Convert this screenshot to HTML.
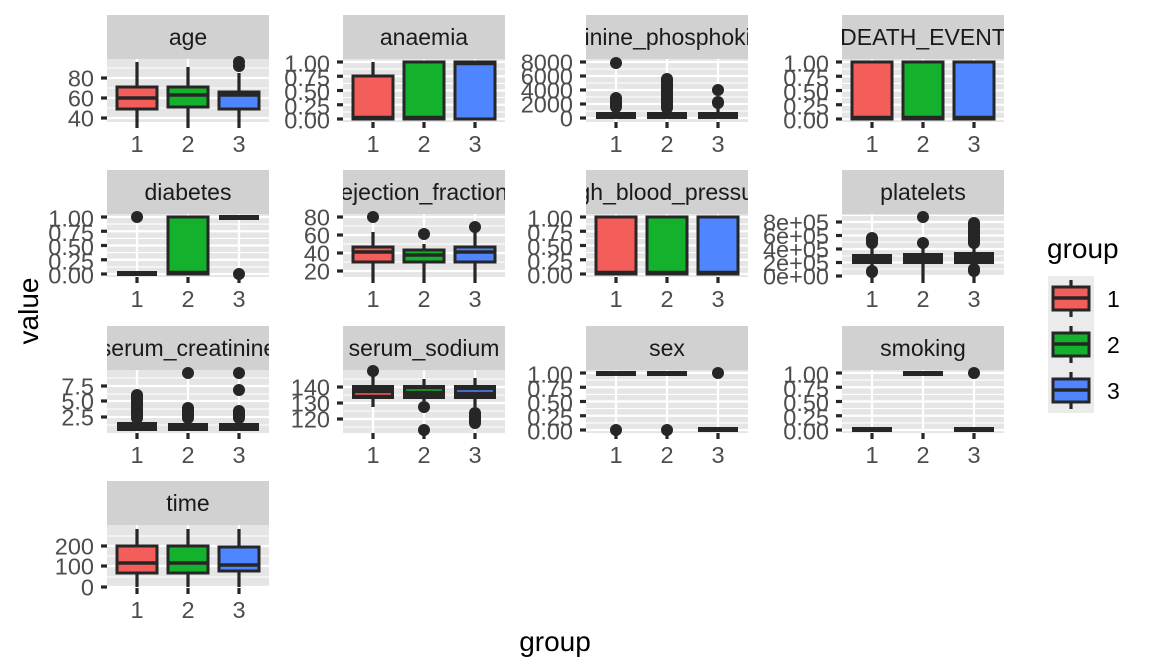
<!DOCTYPE html>
<html><head><meta charset="utf-8"><style>
html,body{margin:0;padding:0;background:#fff;}
svg{display:block;font-family:"Liberation Sans",sans-serif;}
.tk{font-size:23.5px;fill:#4D4D4D;text-anchor:end}
.xl{font-size:23.5px;fill:#4D4D4D;text-anchor:middle}
.st{font-size:23px;fill:#1A1A1A;text-anchor:middle}
.w{stroke:#262626;stroke-width:3.2}
.b{stroke:#262626;stroke-width:3}
.mj{stroke:#fff;stroke-width:2.2}
.mn{stroke:#fff;stroke-width:1.1}
circle{fill:#262626}
</style></head><body>
<svg width="1152" height="672" viewBox="0 0 1152 672">
<defs>
<g id="b01">
<rect width="162" height="63" fill="#E5E5E5"/>
<line class="mn" x1="0" x2="162" y1="10.1" y2="10.1"/><line class="mn" x1="0" x2="162" y1="24.4" y2="24.4"/><line class="mn" x1="0" x2="162" y1="38.6" y2="38.6"/><line class="mn" x1="0" x2="162" y1="52.9" y2="52.9"/>
<line class="mj" x1="0" x2="162" y1="3" y2="3"/><line class="mj" x1="0" x2="162" y1="17.25" y2="17.25"/><line class="mj" x1="0" x2="162" y1="31.5" y2="31.5"/><line class="mj" x1="0" x2="162" y1="45.75" y2="45.75"/><line class="mj" x1="0" x2="162" y1="60" y2="60"/>
<line class="mj" x1="30" x2="30" y1="0" y2="63"/><line class="mj" x1="81" x2="81" y1="0" y2="63"/><line class="mj" x1="132" x2="132" y1="0" y2="63"/>
</g>
<g id="vx">
<line class="mj" x1="30" x2="30" y1="0" y2="63"/><line class="mj" x1="81" x2="81" y1="0" y2="63"/><line class="mj" x1="132" x2="132" y1="0" y2="63"/>
</g>
<g id="t01">
<line class="w" x1="-6" x2="0" y1="3" y2="3"/><line class="w" x1="-6" x2="0" y1="17.25" y2="17.25"/><line class="w" x1="-6" x2="0" y1="31.5" y2="31.5"/><line class="w" x1="-6" x2="0" y1="45.75" y2="45.75"/><line class="w" x1="-6" x2="0" y1="60" y2="60"/>
</g>
<g id="xt">
<line class="w" x1="30" x2="30" y1="63" y2="69"/><line class="w" x1="81" x2="81" y1="63" y2="69"/><line class="w" x1="132" x2="132" y1="63" y2="69"/>
</g>
</defs>

<svg x="107" y="15" width="162" height="44"><rect width="162" height="44" fill="#D1D1D1"/><text class="st" x="81" y="30">age</text></svg>
<svg x="343" y="15" width="162" height="44"><rect width="162" height="44" fill="#D1D1D1"/><text class="st" x="81" y="30">anaemia</text></svg>
<svg x="586" y="15" width="162" height="44"><rect width="162" height="44" fill="#D1D1D1"/><text class="st" x="81" y="30">creatinine_phosphokinase</text></svg>
<svg x="842" y="15" width="162" height="44"><rect width="162" height="44" fill="#D1D1D1"/><text class="st" x="81" y="30">DEATH_EVENT</text></svg>
<svg x="107" y="170" width="162" height="44"><rect width="162" height="44" fill="#D1D1D1"/><text class="st" x="81" y="30">diabetes</text></svg>
<svg x="343" y="170" width="162" height="44"><rect width="162" height="44" fill="#D1D1D1"/><text class="st" x="81" y="30">ejection_fraction</text></svg>
<svg x="586" y="170" width="162" height="44"><rect width="162" height="44" fill="#D1D1D1"/><text class="st" x="81" y="30">high_blood_pressure</text></svg>
<svg x="842" y="170" width="162" height="44"><rect width="162" height="44" fill="#D1D1D1"/><text class="st" x="81" y="30">platelets</text></svg>
<svg x="107" y="326" width="162" height="44"><rect width="162" height="44" fill="#D1D1D1"/><text class="st" x="81" y="30">serum_creatinine</text></svg>
<svg x="343" y="326" width="162" height="44"><rect width="162" height="44" fill="#D1D1D1"/><text class="st" x="81" y="30">serum_sodium</text></svg>
<svg x="586" y="326" width="162" height="44"><rect width="162" height="44" fill="#D1D1D1"/><text class="st" x="81" y="30">sex</text></svg>
<svg x="842" y="326" width="162" height="44"><rect width="162" height="44" fill="#D1D1D1"/><text class="st" x="81" y="30">smoking</text></svg>
<svg x="107" y="481" width="162" height="44"><rect width="162" height="44" fill="#D1D1D1"/><text class="st" x="81" y="30">time</text></svg>

<!-- age -->
<g transform="translate(107,59)">
<rect width="162" height="63" fill="#E5E5E5"/>
<line class="mn" x1="0" x2="162" y1="9" y2="9"/><line class="mn" x1="0" x2="162" y1="29" y2="29"/><line class="mn" x1="0" x2="162" y1="49" y2="49"/>
<line class="mj" x1="0" x2="162" y1="19" y2="19"/><line class="mj" x1="0" x2="162" y1="39" y2="39"/><line class="mj" x1="0" x2="162" y1="59" y2="59"/>
<use href="#vx"/>
<line class="w" x1="-6" x2="0" y1="19" y2="19"/><line class="w" x1="-6" x2="0" y1="39" y2="39"/><line class="w" x1="-6" x2="0" y1="59" y2="59"/>
<text class="tk" x="-13" y="27.5">80</text><text class="tk" x="-13" y="47.5">60</text><text class="tk" x="-13" y="67.5">40</text>
<use href="#xt"/>
<line class="w" x1="30" x2="30" y1="3" y2="63"/><rect class="b" x="10" y="28" width="40" height="22" fill="#F45E5A"/><line stroke="#262626" stroke-width="3.5" x1="10" x2="50" y1="39" y2="39"/>
<line class="w" x1="81" x2="81" y1="8" y2="63"/><rect class="b" x="61" y="28" width="40" height="20" fill="#14B12D"/><line stroke="#262626" stroke-width="3.5" x1="61" x2="101" y1="36" y2="36"/>
<line class="w" x1="132" x2="132" y1="14" y2="63"/><rect class="b" x="112" y="33" width="40" height="17" fill="#4F86FF"/><line stroke="#262626" stroke-width="3.5" x1="112" x2="152" y1="36" y2="36"/>
<circle cx="132" cy="7" r="6"/><circle cx="132" cy="3" r="6"/>
</g>

<!-- anaemia -->
<g transform="translate(343,59)">
<use href="#b01"/><use href="#t01"/><use href="#xt"/>
<line class="w" x1="30" x2="30" y1="3" y2="20"/><rect class="b" x="10" y="17" width="40" height="43" fill="#F45E5A"/><line stroke="#262626" stroke-width="4.5" x1="10" x2="50" y1="59" y2="59"/>
<rect class="b" x="61" y="3" width="40" height="57" fill="#14B12D"/><line stroke="#262626" stroke-width="4.5" x1="61" x2="101" y1="59" y2="59"/>
<rect class="b" x="112" y="3" width="40" height="57" fill="#4F86FF"/><line stroke="#262626" stroke-width="4.5" x1="112" x2="152" y1="4" y2="4"/>
</g>
<g class="tk"><text x="330" y="71.5">1.00</text><text x="330" y="85.75">0.75</text><text x="330" y="100">0.50</text><text x="330" y="114.25">0.25</text><text x="330" y="128.5">0.00</text></g>

<!-- CPK -->
<g transform="translate(586,59)">
<rect width="162" height="63" fill="#E5E5E5"/>
<line class="mn" x1="0" x2="162" y1="10" y2="10"/><line class="mn" x1="0" x2="162" y1="24" y2="24"/><line class="mn" x1="0" x2="162" y1="38" y2="38"/><line class="mn" x1="0" x2="162" y1="52" y2="52"/>
<line class="mj" x1="0" x2="162" y1="3" y2="3"/><line class="mj" x1="0" x2="162" y1="17" y2="17"/><line class="mj" x1="0" x2="162" y1="31" y2="31"/><line class="mj" x1="0" x2="162" y1="45" y2="45"/><line class="mj" x1="0" x2="162" y1="59" y2="59"/>
<use href="#vx"/>
<line class="w" x1="-6" x2="0" y1="3" y2="3"/><line class="w" x1="-6" x2="0" y1="17" y2="17"/><line class="w" x1="-6" x2="0" y1="31" y2="31"/><line class="w" x1="-6" x2="0" y1="45" y2="45"/><line class="w" x1="-6" x2="0" y1="59" y2="59"/>
<text class="tk" x="-13" y="11.5">8000</text><text class="tk" x="-13" y="25.5">6000</text><text class="tk" x="-13" y="39.5">4000</text><text class="tk" x="-13" y="53.5">2000</text><text class="tk" x="-13" y="67.5">0</text>
<use href="#xt"/>
<rect x="10" y="53" width="40" height="7" fill="#262626"/><rect x="61" y="53" width="40" height="7" fill="#262626"/><rect x="112" y="53" width="40" height="7" fill="#262626"/>
<line class="w" x1="30" x2="30" y1="40" y2="55"/><circle cx="30" cy="4" r="6"/><rect x="24" y="33" width="12" height="21" rx="6" fill="#262626"/>
<line class="w" x1="81" x2="81" y1="40" y2="55"/><rect x="75" y="14" width="12" height="41" rx="6" fill="#262626"/>
<line class="w" x1="132" x2="132" y1="45" y2="55"/><circle cx="132" cy="31" r="6"/><rect x="126" y="37" width="12" height="13" rx="6" fill="#262626"/>
</g>

<!-- DEATH_EVENT -->
<g transform="translate(842,59)">
<use href="#b01"/><use href="#t01"/><use href="#xt"/>
<rect class="b" x="10" y="3" width="40" height="57" fill="#F45E5A"/><line stroke="#262626" stroke-width="4.5" x1="10" x2="50" y1="59" y2="59"/>
<rect class="b" x="61" y="3" width="40" height="57" fill="#14B12D"/><line stroke="#262626" stroke-width="4.5" x1="61" x2="101" y1="59" y2="59"/>
<rect class="b" x="112" y="3" width="40" height="57" fill="#4F86FF"/><line stroke="#262626" stroke-width="4.5" x1="112" x2="152" y1="59" y2="59"/>
</g>
<g class="tk"><text x="829" y="71.5">1.00</text><text x="829" y="85.75">0.75</text><text x="829" y="100">0.50</text><text x="829" y="114.25">0.25</text><text x="829" y="128.5">0.00</text></g>

<!-- diabetes -->
<g transform="translate(107,214)">
<use href="#b01"/><use href="#t01"/><use href="#xt"/>
<rect x="10" y="57" width="40" height="5" fill="#262626"/><circle cx="30" cy="3" r="6"/>
<rect class="b" x="61" y="3" width="40" height="57" fill="#14B12D"/><line stroke="#262626" stroke-width="4.5" x1="61" x2="101" y1="59" y2="59"/>
<rect x="112" y="1" width="40" height="5" fill="#262626"/><circle cx="132" cy="60" r="6"/>
</g>
<g class="tk"><text x="94" y="226.5">1.00</text><text x="94" y="240.75">0.75</text><text x="94" y="255">0.50</text><text x="94" y="269.25">0.25</text><text x="94" y="283.5">0.00</text></g>

<!-- ejection_fraction -->
<g transform="translate(343,214)">
<rect width="162" height="63" fill="#E5E5E5"/>
<line class="mn" x1="0" x2="162" y1="12" y2="12"/><line class="mn" x1="0" x2="162" y1="30" y2="30"/><line class="mn" x1="0" x2="162" y1="48" y2="48"/>
<line class="mj" x1="0" x2="162" y1="3" y2="3"/><line class="mj" x1="0" x2="162" y1="21" y2="21"/><line class="mj" x1="0" x2="162" y1="39" y2="39"/><line class="mj" x1="0" x2="162" y1="57" y2="57"/>
<use href="#vx"/>
<line class="w" x1="-6" x2="0" y1="3" y2="3"/><line class="w" x1="-6" x2="0" y1="21" y2="21"/><line class="w" x1="-6" x2="0" y1="39" y2="39"/><line class="w" x1="-6" x2="0" y1="57" y2="57"/>
<text class="tk" x="-13" y="11.5">80</text><text class="tk" x="-13" y="29.5">60</text><text class="tk" x="-13" y="47.5">40</text><text class="tk" x="-13" y="65.5">20</text>
<use href="#xt"/>
<line class="w" x1="30" x2="30" y1="18" y2="63"/><rect class="b" x="10" y="33" width="40" height="15" fill="#F45E5A"/><line stroke="#262626" stroke-width="3.5" x1="10" x2="50" y1="38" y2="38"/><circle cx="30" cy="3" r="6"/>
<line class="w" x1="81" x2="81" y1="30" y2="63"/><rect class="b" x="61" y="36" width="40" height="12" fill="#14B12D"/><line stroke="#262626" stroke-width="3.5" x1="61" x2="101" y1="41" y2="41"/><circle cx="81" cy="20" r="6"/>
<line class="w" x1="132" x2="132" y1="18" y2="63"/><rect class="b" x="112" y="33" width="40" height="15" fill="#4F86FF"/><line stroke="#262626" stroke-width="3.5" x1="112" x2="152" y1="38" y2="38"/><circle cx="132" cy="13" r="6"/>
</g>

<!-- high_blood_pressure -->
<g transform="translate(586,214)">
<use href="#b01"/><use href="#t01"/><use href="#xt"/>
<rect class="b" x="10" y="3" width="40" height="57" fill="#F45E5A"/><line stroke="#262626" stroke-width="4.5" x1="10" x2="50" y1="59" y2="59"/>
<rect class="b" x="61" y="3" width="40" height="57" fill="#14B12D"/><line stroke="#262626" stroke-width="4.5" x1="61" x2="101" y1="59" y2="59"/>
<rect class="b" x="112" y="3" width="40" height="57" fill="#4F86FF"/><line stroke="#262626" stroke-width="4.5" x1="112" x2="152" y1="59" y2="59"/>
</g>
<g class="tk"><text x="573" y="226.5">1.00</text><text x="573" y="240.75">0.75</text><text x="573" y="255">0.50</text><text x="573" y="269.25">0.25</text><text x="573" y="283.5">0.00</text></g>

<!-- platelets -->
<g transform="translate(842,214)">
<rect width="162" height="63" fill="#E5E5E5"/>
<line class="mn" x1="0" x2="162" y1="1.5" y2="1.5"/><line class="mn" x1="0" x2="162" y1="15" y2="15"/><line class="mn" x1="0" x2="162" y1="28" y2="28"/><line class="mn" x1="0" x2="162" y1="42" y2="42"/><line class="mn" x1="0" x2="162" y1="55" y2="55"/>
<line class="mj" x1="0" x2="162" y1="8" y2="8"/><line class="mj" x1="0" x2="162" y1="21.5" y2="21.5"/><line class="mj" x1="0" x2="162" y1="35" y2="35"/><line class="mj" x1="0" x2="162" y1="48.5" y2="48.5"/><line class="mj" x1="0" x2="162" y1="62" y2="62"/>
<use href="#vx"/>
<line class="w" x1="-6" x2="0" y1="8" y2="8"/><line class="w" x1="-6" x2="0" y1="21.5" y2="21.5"/><line class="w" x1="-6" x2="0" y1="35" y2="35"/><line class="w" x1="-6" x2="0" y1="48.5" y2="48.5"/><line class="w" x1="-6" x2="0" y1="62" y2="62"/>
<text class="tk" x="-13" y="16.5">8e+05</text><text class="tk" x="-13" y="30">6e+05</text><text class="tk" x="-13" y="43.5">4e+05</text><text class="tk" x="-13" y="57">2e+05</text><text class="tk" x="-13" y="70.5">0e+00</text>
<use href="#xt"/>
<line class="w" x1="30" x2="30" y1="24" y2="63"/><rect x="10" y="40" width="40" height="10" fill="#262626"/><rect x="24" y="18" width="12" height="17" rx="6" fill="#262626"/><rect x="24" y="51" width="12" height="13" rx="6" fill="#262626"/>
<line class="w" x1="81" x2="81" y1="30" y2="63"/><rect x="61" y="39" width="40" height="11" fill="#262626"/><circle cx="81" cy="3" r="6"/><circle cx="81" cy="29" r="6"/>
<line class="w" x1="132" x2="132" y1="24" y2="63"/><rect x="112" y="38" width="40" height="12" fill="#262626"/><rect x="126" y="3" width="12" height="32" rx="6" fill="#262626"/><rect x="126" y="49" width="12" height="14" rx="6" fill="#262626"/>
</g>

<!-- serum_creatinine -->
<g transform="translate(107,370)">
<rect width="162" height="63" fill="#E5E5E5"/>
<line class="mn" x1="0" x2="162" y1="8" y2="8"/><line class="mn" x1="0" x2="162" y1="24" y2="24"/><line class="mn" x1="0" x2="162" y1="39" y2="39"/><line class="mn" x1="0" x2="162" y1="55" y2="55"/>
<line class="mj" x1="0" x2="162" y1="16" y2="16"/><line class="mj" x1="0" x2="162" y1="31" y2="31"/><line class="mj" x1="0" x2="162" y1="47" y2="47"/>
<use href="#vx"/>
<line class="w" x1="-6" x2="0" y1="16" y2="16"/><line class="w" x1="-6" x2="0" y1="31" y2="31"/><line class="w" x1="-6" x2="0" y1="47" y2="47"/>
<text class="tk" x="-13" y="24.5">7.5</text><text class="tk" x="-13" y="39.5">5.0</text><text class="tk" x="-13" y="55.5">2.5</text>
<use href="#xt"/>
<rect x="10" y="52" width="40" height="9" fill="#262626"/><rect x="24" y="19" width="12" height="35" rx="6" fill="#262626"/>
<rect x="61" y="53" width="40" height="8" fill="#262626"/><circle cx="81" cy="3" r="6"/><rect x="75" y="32" width="12" height="22" rx="6" fill="#262626"/>
<rect x="112" y="53" width="40" height="8" fill="#262626"/><circle cx="132" cy="3" r="6"/><circle cx="132" cy="20" r="6"/><rect x="126" y="35" width="12" height="19" rx="6" fill="#262626"/>
</g>

<!-- serum_sodium -->
<g transform="translate(343,370)">
<rect width="162" height="63" fill="#E5E5E5"/>
<line class="mn" x1="0" x2="162" y1="9" y2="9"/><line class="mn" x1="0" x2="162" y1="25" y2="25"/><line class="mn" x1="0" x2="162" y1="41" y2="41"/><line class="mn" x1="0" x2="162" y1="57" y2="57"/>
<line class="mj" x1="0" x2="162" y1="17" y2="17"/><line class="mj" x1="0" x2="162" y1="33" y2="33"/><line class="mj" x1="0" x2="162" y1="49" y2="49"/>
<use href="#vx"/>
<line class="w" x1="-6" x2="0" y1="17" y2="17"/><line class="w" x1="-6" x2="0" y1="33" y2="33"/><line class="w" x1="-6" x2="0" y1="49" y2="49"/>
<text class="tk" x="-13" y="25.5">140</text><text class="tk" x="-13" y="41.5">130</text><text class="tk" x="-13" y="57.5">120</text>
<use href="#xt"/>
<line class="w" x1="30" x2="30" y1="3" y2="37"/><rect x="9" y="15" width="42" height="14" fill="#262626"/><line stroke="#F45E5A" stroke-width="1.5" x1="12" x2="48" y1="24" y2="24"/><circle cx="30" cy="1" r="6"/>
<line class="w" x1="81" x2="81" y1="9" y2="31"/><rect x="60" y="15" width="42" height="14" fill="#262626"/><line stroke="#14B12D" stroke-width="1.5" x1="63" x2="99" y1="20" y2="20"/><circle cx="81" cy="37" r="6"/><circle cx="81" cy="60" r="6"/>
<line class="w" x1="132" x2="132" y1="8" y2="37"/><rect x="111" y="15" width="42" height="14" fill="#262626"/><line stroke="#4F86FF" stroke-width="1.5" x1="114" x2="150" y1="21" y2="21"/><rect x="126" y="37" width="12" height="22" rx="6" fill="#262626"/>
</g>

<!-- sex -->
<g transform="translate(586,370)">
<use href="#b01"/><use href="#t01"/><use href="#xt"/>
<rect x="10" y="1" width="40" height="5" fill="#262626"/><circle cx="30" cy="60" r="6"/>
<rect x="61" y="1" width="40" height="5" fill="#262626"/><circle cx="81" cy="60" r="6"/>
<rect x="112" y="57" width="40" height="5" fill="#262626"/><circle cx="132" cy="3" r="6"/>
</g>
<g class="tk"><text x="573" y="382.5">1.00</text><text x="573" y="396.75">0.75</text><text x="573" y="411">0.50</text><text x="573" y="425.25">0.25</text><text x="573" y="439.5">0.00</text></g>

<!-- smoking -->
<g transform="translate(842,370)">
<use href="#b01"/><use href="#t01"/><use href="#xt"/>
<rect x="10" y="57" width="40" height="5" fill="#262626"/>
<rect x="61" y="1" width="40" height="5" fill="#262626"/>
<rect x="112" y="57" width="40" height="5" fill="#262626"/><circle cx="132" cy="3" r="6"/>
</g>
<g class="tk"><text x="829" y="382.5">1.00</text><text x="829" y="396.75">0.75</text><text x="829" y="411">0.50</text><text x="829" y="425.25">0.25</text><text x="829" y="439.5">0.00</text></g>

<!-- time -->
<g transform="translate(107,525)">
<rect width="162" height="63" fill="#E5E5E5"/>
<line class="mn" x1="0" x2="162" y1="11" y2="11"/><line class="mn" x1="0" x2="162" y1="31" y2="31"/><line class="mn" x1="0" x2="162" y1="52" y2="52"/>
<line class="mj" x1="0" x2="162" y1="21" y2="21"/><line class="mj" x1="0" x2="162" y1="41" y2="41"/><line class="mj" x1="0" x2="162" y1="62" y2="62"/>
<use href="#vx"/>
<line class="w" x1="-6" x2="0" y1="21" y2="21"/><line class="w" x1="-6" x2="0" y1="41" y2="41"/><line class="w" x1="-6" x2="0" y1="62" y2="62"/>
<text class="tk" x="-13" y="29.5">200</text><text class="tk" x="-13" y="49.5">100</text><text class="tk" x="-13" y="70.5">0</text>
<use href="#xt"/>
<line class="w" x1="30" x2="30" y1="4" y2="62"/><rect class="b" x="10" y="21" width="40" height="27" fill="#F45E5A"/><line stroke="#262626" stroke-width="3.5" x1="10" x2="50" y1="38" y2="38"/>
<line class="w" x1="81" x2="81" y1="4" y2="62"/><rect class="b" x="61" y="21" width="40" height="27" fill="#14B12D"/><line stroke="#262626" stroke-width="3.5" x1="61" x2="101" y1="38" y2="38"/>
<line class="w" x1="132" x2="132" y1="4" y2="62"/><rect class="b" x="112" y="22" width="40" height="24" fill="#4F86FF"/><line stroke="#262626" stroke-width="3.5" x1="112" x2="152" y1="40" y2="40"/>
</g>

<g class="xl">
<text x="137" y="152">1</text><text x="188" y="152">2</text><text x="239" y="152">3</text>
<text x="373" y="152">1</text><text x="424" y="152">2</text><text x="475" y="152">3</text>
<text x="616" y="152">1</text><text x="667" y="152">2</text><text x="718" y="152">3</text>
<text x="872" y="152">1</text><text x="923" y="152">2</text><text x="974" y="152">3</text>
<text x="137" y="307">1</text><text x="188" y="307">2</text><text x="239" y="307">3</text>
<text x="373" y="307">1</text><text x="424" y="307">2</text><text x="475" y="307">3</text>
<text x="616" y="307">1</text><text x="667" y="307">2</text><text x="718" y="307">3</text>
<text x="872" y="307">1</text><text x="923" y="307">2</text><text x="974" y="307">3</text>
<text x="137" y="463">1</text><text x="188" y="463">2</text><text x="239" y="463">3</text>
<text x="373" y="463">1</text><text x="424" y="463">2</text><text x="475" y="463">3</text>
<text x="616" y="463">1</text><text x="667" y="463">2</text><text x="718" y="463">3</text>
<text x="872" y="463">1</text><text x="923" y="463">2</text><text x="974" y="463">3</text>
<text x="137" y="618">1</text><text x="188" y="618">2</text><text x="239" y="618">3</text>
</g>

<text x="555" y="651" font-size="28" fill="#000" text-anchor="middle">group</text>
<text transform="translate(38,311) rotate(-90)" font-size="28" fill="#000" text-anchor="middle">value</text>

<text x="1047" y="258" font-size="28" fill="#000">group</text>
<rect x="1048" y="276" width="46" height="137" fill="#EBEBEB"/>
<line class="w" x1="1071" x2="1071" y1="280" y2="317"/><rect class="b" x="1053" y="287" width="36" height="23" fill="#F45E5A"/><line stroke="#262626" stroke-width="3.5" x1="1053" x2="1089" y1="298" y2="298"/>
<line class="w" x1="1071" x2="1071" y1="326" y2="363"/><rect class="b" x="1053" y="333" width="36" height="23" fill="#14B12D"/><line stroke="#262626" stroke-width="3.5" x1="1053" x2="1089" y1="344" y2="344"/>
<line class="w" x1="1071" x2="1071" y1="372" y2="409"/><rect class="b" x="1053" y="379" width="36" height="23" fill="#4F86FF"/><line stroke="#262626" stroke-width="3.5" x1="1053" x2="1089" y1="390" y2="390"/>
<text x="1107" y="307" font-size="23" fill="#000">1</text>
<text x="1107" y="353" font-size="23" fill="#000">2</text>
<text x="1107" y="399" font-size="23" fill="#000">3</text>
</svg>
</body></html>
